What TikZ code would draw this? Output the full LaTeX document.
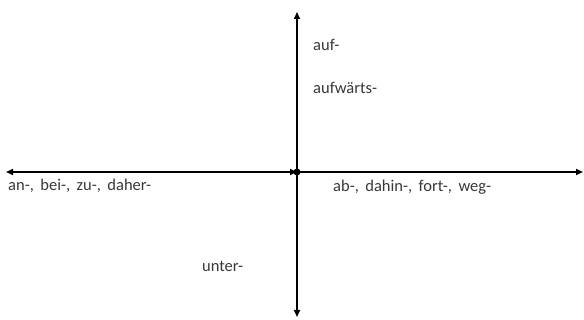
\documentclass[tikz,border=0pt]{standalone}
\usepackage{fontspec}
\setmainfont{Carlito}
\usetikzlibrary{arrows.meta}
\definecolor{txt}{HTML}{383838}
\begin{document}
\begin{tikzpicture}[x=1pt,y=1pt,
  axis/.style={line width=1.6pt,black},
  tip/.style={-{Triangle[length=7pt,width=6pt]}},
  lbl/.style={anchor=west,inner sep=0pt,text=txt,font=\fontsize{16.5}{18}\selectfont}]
\useasboundingbox (0,0) rectangle (584,320);
\coordinate (c) at (297,148);
\coordinate (l) at (6,148);
\coordinate (r) at (583,148);
\coordinate (t) at (297,308);
\coordinate (b) at (297,3);
\draw[axis,{Triangle[length=7pt,width=6pt]}-{Triangle[length=7pt,width=6pt]}] (l) -- (c);
\draw[axis,tip] (c) -- (r);
\draw[axis,tip] (c) -- (t);
\draw[axis,tip] (c) -- (b);
\fill (c) circle (3.5pt);
\node[lbl] (auf) at (313,275) {auf-};
\node[lbl] (aufw) at (313,232) {aufwärts-};
\node[lbl] (an) at (8,134) {an-,\, bei-,\, zu-,\, daher-};
\node[lbl] (ab) at (333,133) {ab-,\, dahin-,\, fort-,\, weg-};
\node[lbl] (unter) at (202,54) {unter-};
\end{tikzpicture}
\end{document}
